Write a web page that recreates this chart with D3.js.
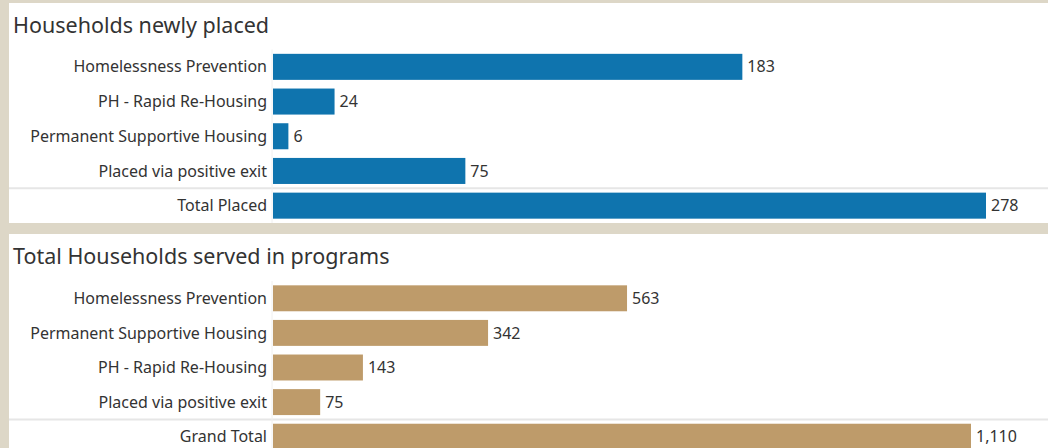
<!DOCTYPE html>
<html><head><meta charset="utf-8">
<script src="https://cdn.jsdelivr.net/npm/d3@7"></script>
<style>
body{margin:0;background:#ddd7c7;}
svg{display:block;font-family:"Noto Sans",sans-serif;}
</style></head><body>
<svg id="c" width="1048" height="448"></svg>
<script>
const placedCategories = ["Homelessness Prevention","PH - Rapid Re-Housing","Permanent Supportive Housing","Placed via positive exit","Total Placed"];
const placedValues = [183,24,6,75,278];
const servedCategories = ["Homelessness Prevention","Permanent Supportive Housing","PH - Rapid Re-Housing","Placed via positive exit","Grand Total"];
const servedValues = [563,342,143,75,1110];
const titles = ["Households newly placed","Total Households served in programs"];

const svg = d3.select("#c");
svg.append("rect").attr("width",1048).attr("height",448).attr("fill","#ddd7c7");

function panel(cfg){
  const g = svg.append("g");
  g.append("rect").attr("x",9).attr("y",cfg.top).attr("width",1039).attr("height",cfg.h).attr("fill","#fff");
  g.append("text").attr("x",13).attr("y",cfg.top+30).attr("font-size",21.5).attr("fill","#333").text(cfg.title);
  const y = d3.scaleBand().domain(cfg.cats).range([cfg.bandTop, cfg.bandTop+cfg.step*cfg.cats.length]).paddingInner(0.25).paddingOuter(0.125);
  const x = d3.scaleLinear().domain([0, cfg.max]).range([273, cfg.maxX]);
  const sepY = y(cfg.cats[cfg.cats.length-1]) - y.step()*0.125;
  g.append("line").attr("x1",9).attr("x2",1048).attr("y1",sepY).attr("y2",sepY).attr("stroke","#e6e6e6").attr("stroke-width",2);
  g.append("line").attr("x1",272).attr("x2",272).attr("y1",cfg.bandTop).attr("y2",Math.min(cfg.top+cfg.h, cfg.bandTop+cfg.step*cfg.cats.length)).attr("stroke","#f0f0f0").attr("stroke-width",1);
  const data = cfg.cats.map((c,i)=>({c, v:cfg.vals[i]}));
  g.selectAll("rect.bar").data(data).join("rect").attr("class","bar")
    .attr("x",x(0)).attr("y",d=>y(d.c)).attr("width",d=>x(d.v)-x(0)).attr("height",y.bandwidth()).attr("fill",cfg.color);
  g.selectAll("text.lab").data(data).join("text").attr("class","lab")
    .attr("x",267).attr("y",d=>y(d.c)+y.bandwidth()/2).attr("dy","0.35em").attr("text-anchor","end")
    .attr("font-size",16).attr("fill","#333").text(d=>d.c);
  g.selectAll("text.val").data(data).join("text").attr("class","val")
    .attr("x",d=>x(d.v)+5).attr("y",d=>y(d.c)+y.bandwidth()/2).attr("dy","0.35em")
    .attr("font-size",16).attr("fill","#333").text(d=>d3.format(",")(d.v));
}
panel({top:3,h:220,title:titles[0],cats:placedCategories,vals:placedValues,bandTop:49.5,step:34.7,max:278,maxX:986,color:"#0f74ae"});
panel({top:234,h:214,title:titles[1],cats:servedCategories,vals:servedValues,bandTop:281,step:34.6,max:1110,maxX:971,color:"#be9b6a"});
</script>
</body></html>
